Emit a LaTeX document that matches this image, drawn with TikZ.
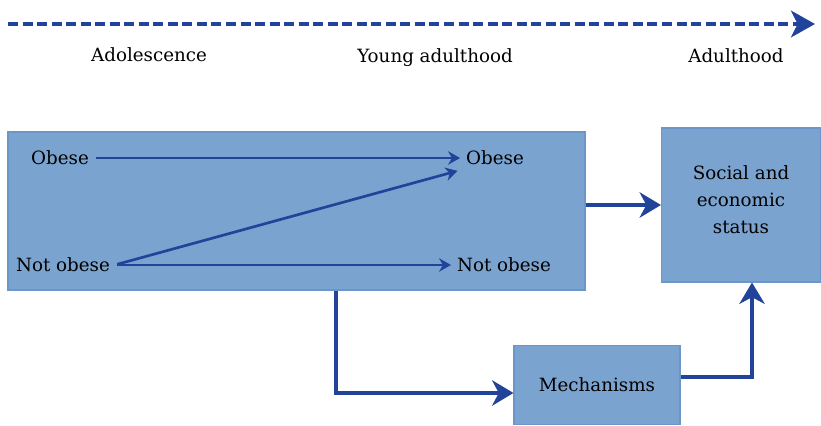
\documentclass[tikz,border=0pt]{standalone}
\usepackage{fontspec}
\setmainfont{DejaVu Serif}
\usetikzlibrary{arrows.meta}
\definecolor{caixa}{HTML}{7BA3CF}
\definecolor{borda}{HTML}{6B96C9}
\definecolor{seta}{HTML}{22439A}
\tikzset{
    box/.style={draw=borda, line width=0.8pt, fill=caixa, inner sep=0pt},
    fina/.style={-{Stealth[length=9pt, width=10pt]}, line width=2pt, seta},
    grossa/.style={-{Stealth[length=16pt, width=19pt, inset=5pt]}, line width=3pt, seta}
}
\begin{document}
\begin{tikzpicture}[x=0.75pt, y=-0.75pt, every node/.style={font=\fontsize{13.7}{20.25}\selectfont}]
    \useasboundingbox (0,0) rectangle (821,425);

    % Linha do tempo
    \coordinate (t0) at (8,24);
    \coordinate (t1) at (815,24);
    \draw[seta, line width=3pt, dash pattern=on 7.5pt off 3.4pt,
        -{Stealth[length=18pt, width=20pt, inset=5pt]}] (t0) -- (t1);
    \node (adol) at (149,55) {Adolescence};
    \node (young) at (435,58) {Young adulthood};
    \node (adult) at (736,56) {Adulthood};

    % Caixas
    \node[box, minimum width=432.75pt, minimum height=118.5pt] (stage) at (296.5,211) {};
    \node[box, minimum width=119.25pt, minimum height=115.5pt, align=center] (ses) at (741,205)
        {Social and\\ economic\\ status\\[-12pt]\mbox{}};
    \node[box, minimum width=124.5pt, minimum height=59.25pt] (mech) at (597,385) {Mechanisms};

    % Estados
    \node (obA) at (60,158) {Obese};
    \node (obB) at (495,158) {Obese};
    \node (nobA) at (63,265) {Not obese};
    \node (nobB) at (504,265) {Not obese};

    % Setas internas
    \draw[fina, shorten <=2pt, shorten >=1pt] (obA.east) -- (obB.west);
    \draw[fina, shorten <=2pt, shorten >=1pt] (nobA.east) -- (nobB.west);
    \draw[fina, shorten <=2pt, shorten >=3pt] (nobA.east) -- (obB.south west);

    % Setas externas
    \coordinate (dobraA) at (336,393);
    \coordinate (dobraB) at (752,377);
    \draw[grossa] (stage.east |- ses.west) -- (ses.west);
    \draw[grossa] (stage.south -| dobraA) -- (dobraA) -- (dobraA -| mech.west);
    \draw[grossa] (dobraB -| mech.east) -- (dobraB) -- (dobraB |- ses.south);
\end{tikzpicture}
\end{document}
